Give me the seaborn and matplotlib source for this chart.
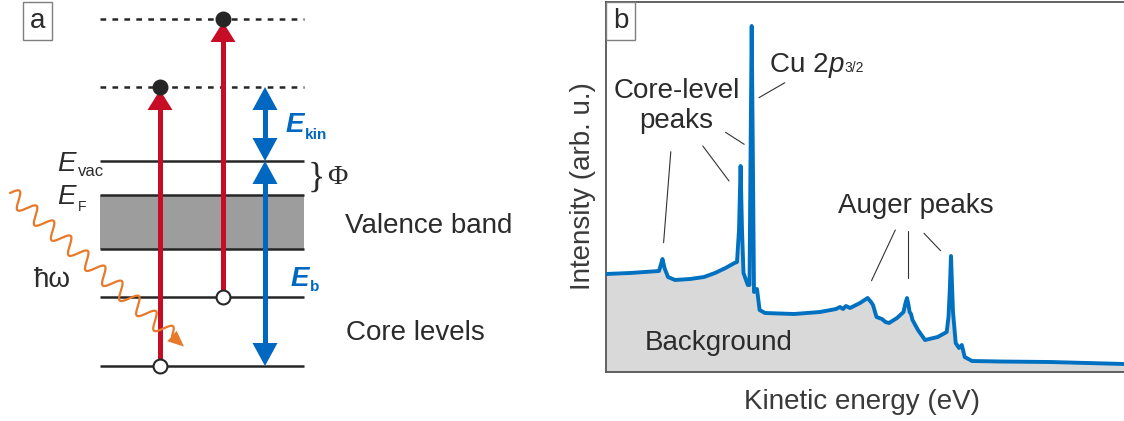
import numpy as np
import matplotlib
matplotlib.use("Agg")
import matplotlib.pyplot as plt
import seaborn as sns

# ---------------- Panel a: photoemission energy diagram ----------------
# energies in arbitrary units, deepest core level at 0
level_energy = [0, 69, 117, 171, 205]          # core deep, core shallow, VB bottom, E_F, E_vac
final_energy = [279, 347]                      # free-electron final states (dashed)
level_x = [100, 304]
transition_x = [160, 223]
transition_from = [0, 69]
transition_to = [279, 347]
blue_x = 265
ekin_span = [205, 279]
eb_span = [0, 205]
photon_start = [10, 173]
photon_end = [172, 30]
photon_periods = 9.5
photon_amp = 8

# ---------------- Panel b: survey spectrum ----------------
kinetic_energy = [0, 24, 53, 54.5, 56.5, 58.5, 62, 69, 84, 98,
                  109, 119.5, 128.5, 131, 133, 134.6, 136, 137.5, 141.8, 143.5,
                  144.6, 145.7, 146.8, 148, 151, 153.6, 159, 188, 214, 230,
                  234, 237, 240, 244, 254, 261.6, 265, 267, 270.5, 276,
                  279.5, 283, 291, 297.5, 299.5, 301, 302.5, 303.6, 305, 306.5,
                  312, 319, 331.7, 340.7, 342.5, 343.8, 345, 346.2, 347, 349.7,
                  353, 355.8, 358.7, 366, 394, 444, 518]
intensity = [98, 99, 101, 106, 113, 104, 95, 92, 93, 95,
             99, 104, 109, 110, 142, 206, 142, 99, 87, 87,
             222, 346, 222, 80, 83, 62, 59, 58, 60, 63,
             65, 63, 66, 64, 69, 74, 70, 67, 55, 53,
             50, 49, 54, 60, 69, 74, 67, 60, 58, 52,
             42, 32, 35, 40, 55, 82, 116, 82, 60, 29,
             24, 27, 15, 11, 10.5, 10, 8]

sns.set_theme(style="white")
plt.rcParams['font.family'] = ['Liberation Sans', 'DejaVu Sans']
plt.rcParams['lines.scale_dashes'] = False

TXT = '#2b2b2b'
LINE = '#262626'
RED = '#c70d26'
BLUE = '#0068c0'
ORANGE = '#e8792a'
FS = 20

fig = plt.figure(figsize=(11.24, 4.21), dpi=100)

# ---------- panel a ----------
ax = fig.add_axes([0, 0, 560 / 1124, 1])
ax.set_xlim(0, 560)
ax.set_ylim(-55, 366)
ax.axis('off')


def head(x, tip, base, width, color, z):
    ax.fill([x - width / 2, x + width / 2, x], [base, base, tip], color=color, lw=0, zorder=z)


# valence band
ax.fill_between(level_x, level_energy[2], level_energy[3], color='#9d9d9d', lw=0, zorder=1)
for e in level_energy:
    ax.plot(level_x, [e, e], color=LINE, lw=1.8, solid_capstyle='butt', zorder=2)
for e in final_energy:
    ax.plot(level_x, [e, e], color=LINE, lw=1.8, dashes=(4.1, 4.5), zorder=2)

# excitations
for x, e0, e1 in zip(transition_x, transition_from, transition_to):
    tip = e1 - 3
    base = tip - 20
    ax.plot([x, x], [e0, base + 1], color=RED, lw=3.6, solid_capstyle='butt', zorder=3)
    head(x, tip, base, 25, RED, 4)
    ax.plot([x], [e0], marker='o', ms=10, mfc='white', mec=LINE, mew=1.5, zorder=5)
    ax.plot([x], [e1], marker='o', ms=11.5, mfc=LINE, mec=LINE, mew=0, zorder=5)

# kinetic and binding energy bars
for lo, hi in (ekin_span, eb_span):
    ax.plot([blue_x, blue_x], [lo + 20, hi - 20], color=BLUE, lw=3.6, solid_capstyle='butt', zorder=3)
    head(blue_x, hi, hi - 23, 25, BLUE, 4)
    head(blue_x, lo, lo + 23, 25, BLUE, 4)

# incoming photon
p0 = np.array(photon_start, float)
p1 = np.array(photon_end, float)
d = p1 - p0
L = np.hypot(*d)
u = d / L
n = np.array([-u[1], u[0]])
t = np.linspace(0, 1, 800)
wave = p0 + t[:, None] * d + photon_amp * np.sin(2 * np.pi * photon_periods * t)[:, None] * n
ax.plot(wave[:, 0], wave[:, 1], color=ORANGE, lw=1.6, zorder=6)
tipp = p1 + 16 * u
ax.fill([p1[0] + 7 * n[0], tipp[0], p1[0] - 7 * n[0]],
        [p1[1] + 7 * n[1], tipp[1], p1[1] - 7 * n[1]], color=ORANGE, lw=0, zorder=6)

# labels
ax.text(57, 195, 'E', fontsize=FS, style='italic', color=TXT, va='baseline')
ax.text(77.5, 190, 'vac', fontsize=12, color=TXT, va='baseline')
ax.text(57, 162, 'E', fontsize=FS, style='italic', color=TXT, va='baseline')
ax.text(77.5, 155, 'F', fontsize=10, color=TXT, va='baseline')
ax.text(34, 79, 'ħω', fontsize=FS, color=TXT, va='baseline')
ax.text(286, 234.3, 'E', fontsize=FS, style='italic', weight='bold', color=BLUE, va='baseline')
ax.text(305, 227, 'kin', fontsize=11, weight='bold', color=BLUE, va='baseline')
ax.text(291, 80, 'E', fontsize=FS, style='italic', weight='bold', color=BLUE, va='baseline')
ax.text(310, 75, 'b', fontsize=11, weight='bold', color=BLUE, va='baseline')
ax.text(308, 188, '}', fontsize=26, family='Liberation Serif', color=TXT, va='center')
ax.text(327, 188, 'Φ', fontsize=FS, family='Liberation Serif', color=TXT, va='center')
ax.text(345, 133, 'Valence band', fontsize=FS, color=TXT, va='baseline')
ax.text(346, 26, 'Core levels', fontsize=FS, color=TXT, va='baseline')
ax.add_patch(plt.Rectangle((23, 326), 29, 38, fill=True, fc='white', ec='#7f7f7f', lw=1.0, zorder=7))
ax.text(37.5, 345, 'a', fontsize=FS, color=TXT, ha='center', va='center', zorder=8)

# ---------- panel b ----------
bx = fig.add_axes([606 / 1124, 49 / 421, 518 / 1124, 370 / 421])
bx.fill_between(kinetic_energy, 0, intensity, color='#d9d9d9', lw=0, zorder=1)
sns.lineplot(x=kinetic_energy, y=intensity, ax=bx, color='#0070c0', lw=2.8, zorder=3)
bx.set_xlim(0, 518)
bx.set_ylim(0, 370)
bx.set_xticks([])
bx.set_yticks([])
bx.set_xlabel('')
bx.set_ylabel('')
for side in ('left', 'top', 'bottom'):
    bx.spines[side].set_color('#555555')
    bx.spines[side].set_linewidth(1.3)
bx.spines['right'].set_visible(False)

ann = dict(color='#333333', lw=0.8, zorder=2)
bx.plot([152.9, 178.8], [274.3, 289.3], **ann)
bx.plot([64.8, 57.6], [220.3, 129.3], **ann)
bx.plot([96.8, 123], [226, 191], **ann)
bx.plot([119.5, 138.2], [239.7, 227.7], **ann)
bx.plot([289.3, 265.5], [142, 91.3], **ann)
bx.plot([302.2, 302.2], [141, 94.3], **ann)
bx.plot([318, 334.6], [138.7, 121.3], **ann)

cu = bx.text(164.4, 300, 'Cu 2', fontsize=FS, color=TXT, va='baseline')
pp = bx.annotate('p', xy=(1, 0), xycoords=cu, fontsize=FS, style='italic', color=TXT,
                 ha='left', va='bottom')
bx.annotate('3/2', xy=(1, 0), xycoords=pp, xytext=(0, 2), textcoords='offset points',
            fontsize=10, color=TXT, ha='left', va='bottom')
bx.text(71, 274, 'Core-level', fontsize=FS, color=TXT, ha='center', va='baseline')
bx.text(70, 244, 'peaks', fontsize=FS, color=TXT, ha='center', va='baseline')
bx.text(309.6, 159, 'Auger peaks', fontsize=FS, color=TXT, ha='center', va='baseline')
bx.text(39, 22, 'Background', fontsize=FS, color=TXT, va='baseline')
bx.add_patch(plt.Rectangle((0, 332), 29, 38, fc='white', ec='#7f7f7f', lw=1.0, zorder=7))
bx.text(14.5, 351, 'b', fontsize=FS, color=TXT, ha='center', va='center', zorder=8)

fig.text(583.5 / 1124, 1 - 186 / 421, 'Intensity (arb. u.)', rotation=90, fontsize=FS,
         color='#3a3a3a', ha='center', va='center')
fig.text(862 / 1124, 1 - 402 / 421, 'Kinetic energy (eV)', fontsize=FS,
         color='#3a3a3a', ha='center', va='center')

fig.savefig('out.png', dpi=100)
